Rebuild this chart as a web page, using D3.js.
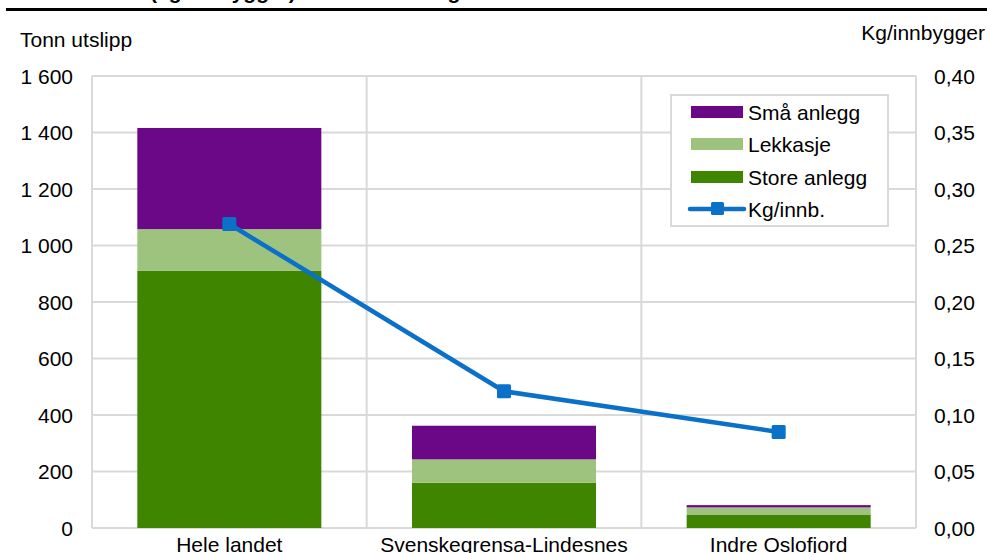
<!DOCTYPE html>
<html><head><meta charset="utf-8">
<script src="https://cdn.jsdelivr.net/npm/d3@7"></script>
<style>body{margin:0;background:#fff}svg{display:block;font-family:"Liberation Sans",Arial,sans-serif}</style>
</head><body>
<svg id="c" width="987" height="553"></svg>
<script>
const categories = ["Hele landet", "Svenskegrensa-Lindesnes", "Indre Oslofjord"];
const storeAnlegg = [910, 160, 46];
const lekkasje = [148, 83, 27];
const smaAnlegg = [358, 119, 8];
const kgPerInnb = [0.269, 0.121, 0.085];
const leftTicks = [0, 200, 400, 600, 800, 1000, 1200, 1400, 1600];
const rightTicks = [0, 0.05, 0.10, 0.15, 0.20, 0.25, 0.30, 0.35, 0.40];
const seriesNames = ["Store anlegg", "Lekkasje", "Små anlegg"];
const colors = {"Store anlegg": "#3f8500", "Lekkasje": "#9dc37f", "Små anlegg": "#6a0888"};
const lineColor = "#0a70c8";

const svg = d3.select("#c");
const fs = 21;
const m = {l: 92, r: 916, t: 76, b: 528};
const x = d3.scaleBand().domain(categories).range([m.l, m.r]).paddingInner(0.33).paddingOuter(0.165);
const xb = d3.scaleBand().domain(categories).range([m.l, m.r]);
const y = d3.scaleLinear().domain([0, 1600]).range([m.b, m.t]);
const y2 = d3.scaleLinear().domain([0, 0.40]).range([m.b, m.t]);
const grid = "#d9d9d9";

// title (clipped at top, as in the reference)
svg.append("text").attr("x", 144).attr("y", -1).attr("text-anchor", "end").attr("font-size", fs).attr("font-weight", "bold")
  .text("Tonn fosfor samt");
svg.append("text").attr("x", 150).attr("y", -1).attr("font-size", fs).attr("font-weight", "bold")
  .text("(kg/innbygger) etter område og kilde");
svg.append("line").attr("x1", 6).attr("x2", 987).attr("y1", 9.5).attr("y2", 9.5).attr("stroke", "#000").attr("stroke-width", 3);

// horizontal grid
svg.append("g").selectAll("line").data(leftTicks).join("line")
  .attr("x1", m.l).attr("x2", m.r).attr("y1", d => y(d)).attr("y2", d => y(d))
  .attr("stroke", grid).attr("stroke-width", 2);
// vertical grid / borders
const vx = [m.l, ...categories.slice(1).map(c => xb(c)), m.r];
svg.append("g").selectAll("line").data(vx).join("line")
  .attr("x1", d => d).attr("x2", d => d).attr("y1", m.t).attr("y2", m.b)
  .attr("stroke", grid).attr("stroke-width", 2);

// stacked bars
const rows = categories.map((c, i) => ({cat: c, "Store anlegg": storeAnlegg[i], "Lekkasje": lekkasje[i], "Små anlegg": smaAnlegg[i]}));
const stack = d3.stack().keys(seriesNames)(rows);
svg.append("g").selectAll("g").data(stack).join("g").attr("fill", d => colors[d.key])
  .selectAll("rect").data(d => d).join("rect")
  .attr("x", d => x(d.data.cat)).attr("width", x.bandwidth())
  .attr("y", d => y(d[1])).attr("height", d => y(d[0]) - y(d[1]));

// line
const pts = categories.map((c, i) => [x(c) + x.bandwidth() / 2, y2(kgPerInnb[i])]);
svg.append("path").attr("d", d3.line()(pts)).attr("fill", "none").attr("stroke", lineColor).attr("stroke-width", 4.5);
svg.append("g").selectAll("rect").data(pts).join("rect")
  .attr("x", d => d[0] - 7).attr("y", d => d[1] - 7).attr("width", 14).attr("height", 14)
  .attr("rx", 1.5).attr("fill", lineColor);

// axes text
const fmtL = d => d3.format(",")(d).replace(/,/g, " ");
svg.append("g").selectAll("text").data(leftTicks).join("text")
  .attr("x", 73).attr("y", d => y(d) + 7.5).attr("text-anchor", "end").attr("font-size", fs).text(fmtL);
svg.append("g").selectAll("text").data(rightTicks).join("text")
  .attr("x", 934).attr("y", d => y2(d) + 7.5).attr("font-size", fs).text(d => d.toFixed(2).replace(".", ","));
svg.append("g").selectAll("text").data(categories).join("text")
  .attr("x", d => x(d) + x.bandwidth() / 2).attr("y", 552).attr("text-anchor", "middle").attr("font-size", fs).text(d => d);
svg.append("text").attr("x", 20).attr("y", 47).attr("font-size", fs).text("Tonn utslipp");
svg.append("text").attr("x", 985).attr("y", 40).attr("text-anchor", "end").attr("font-size", fs).text("Kg/innbygger");

// legend
const lg = svg.append("g");
lg.append("rect").attr("x", 671).attr("y", 95).attr("width", 217).attr("height", 131).attr("fill", "#fff").attr("stroke", grid).attr("stroke-width", 2);
const leg = [...seriesNames].reverse();
const ly = [112, 144, 177, 209];
leg.forEach((k, i) => {
  lg.append("rect").attr("x", 691).attr("y", ly[i] - 6).attr("width", 52).attr("height", 12).attr("fill", colors[k]);
  lg.append("text").attr("x", 748).attr("y", ly[i] + 8).attr("font-size", fs).text(k);
});
lg.append("line").attr("x1", 690).attr("x2", 744).attr("y1", ly[3]).attr("y2", ly[3]).attr("stroke", lineColor).attr("stroke-width", 4.5).attr("stroke-linecap", "round");
lg.append("rect").attr("x", 711).attr("y", ly[3] - 7).attr("width", 13).attr("height", 13).attr("rx", 1.5).attr("fill", lineColor);
lg.append("text").attr("x", 748).attr("y", ly[3] + 8).attr("font-size", fs).text("Kg/innb.");
</script>
</body></html>
